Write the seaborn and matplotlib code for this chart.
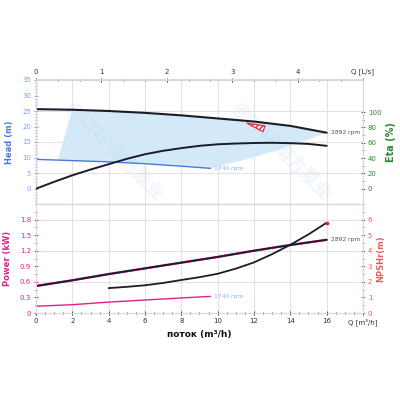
import numpy as np
import pandas as pd
import matplotlib
matplotlib.use("Agg")
import matplotlib.pyplot as plt
from matplotlib.ticker import MultipleLocator, FixedLocator
import seaborn as sns

sns.set_theme(style="white")
plt.rcParams['font.family'] = ['DejaVu Sans', 'Noto Sans CJK SC']

# ---------------- data ----------------
q_hi = [0, 2, 4, 6, 8, 10, 12, 14, 16]
head_hi = [25.6, 25.4, 25.0, 24.4, 23.6, 22.6, 21.6, 20.2, 18.0]

q_lo = [0, 2, 4, 6, 8, 9.6]
head_lo = [9.4, 9.0, 8.6, 8.0, 7.2, 6.5]

q_eta = [0, 1, 2, 3, 4, 5, 6, 7, 8, 9, 10, 11, 12, 13, 14, 15, 16]
eta = [0, 9, 17.5, 25, 32, 39, 45, 49.5, 53, 56, 58, 59, 59.7, 60, 59.5, 58.5, 56]

region_q = [1.2, 2.0, 4, 6, 8, 10, 12, 14, 16, 14.5, 13, 11.5, 9.6, 8, 6, 4, 2, 1.2]
region_h = [9.3, 25.4, 25.0, 24.4, 23.6, 22.6, 21.6, 20.2, 18.0, 14.8, 11.9, 9.3, 6.5, 7.2, 8.0, 8.6, 9.0, 9.3]

bep_q = [11.6, 12.6, 12.5]
bep_h = [21.1, 20.2, 18.3]

q_p = [0, 2, 4, 6, 8, 10, 12, 14, 16]
power_hi = [0.52, 0.63, 0.75, 0.86, 0.97, 1.08, 1.20, 1.31, 1.41]

q_plo = [0, 2, 4, 6, 8, 9.6]
power_lo = [0.13, 0.16, 0.21, 0.25, 0.29, 0.32]

q_npsh = [4, 5, 6, 7, 8, 9, 10, 11, 12, 13, 14, 15, 16]
npsh = [1.6, 1.68, 1.78, 1.93, 2.12, 2.3, 2.52, 2.85, 3.25, 3.78, 4.38, 5.05, 5.8]

speed_hi = "2892 rpm"
speed_lo = "1740 rpm"

x_ticks = [0, 2, 4, 6, 8, 10, 12, 14, 16, 18]
x_labels = ['0', '2', '4', '6', '8', '10', '12', '14', '16', 'Q [m³/h]']
top_ticks = [0, 1, 2, 3, 4, 5]
top_labels = ['0', '1', '2', '3', '4', 'Q [L/s]']
head_ticks = [0, 5, 10, 15, 20, 25, 30, 35]
eta_ticks = [0, 20, 40, 60, 80, 100]
power_ticks = [0, 0.3, 0.6, 0.9, 1.2, 1.5, 1.8]
power_labels = ['0', '0.3', '0.6', '0.9', '1.2', '1.5', '1.8']
npsh_ticks = [0, 1, 2, 3, 4, 5, 6]

# ---------------- colours ----------------
C_HEAD = "#4a78e0"
C_HEAD_T = "#7d9ff0"
C_ETA = "#2e8b2e"
C_POW = "#e0218a"
C_NPSH = "#f05a5a"
C_GRID = "#e2e2e2"
C_SPINE = "#d8d8d8"
C_DARK = "#1c1c28"
C_LBL_HI = "#44506e"
C_LBL_LO = "#8fb0ec"

fig = plt.figure(figsize=(4, 4), dpi=100)
fig.patch.set_facecolor("white")

ax1 = fig.add_axes([0.09, 0.49, 0.8175, 0.31])
ax2 = fig.add_axes([0.09, 0.2175, 0.8175, 0.2725])

for ax in (ax1, ax2):
    ax.set_xlim(0, 18)
    ax.set_facecolor("white")
    for s in ax.spines.values():
        s.set_color(C_SPINE)
        s.set_linewidth(0.8)
    for xv in x_ticks[1:]:
        ax.axvline(xv, color=C_GRID, lw=0.8, zorder=0)

# ---------------- top panel ----------------
ax1.set_ylim(-5, 35)
for hv in [5, 15, 25]:
    ax1.axhline(hv, color=C_GRID, lw=0.8, zorder=0)

ax1.fill(region_q, region_h, color="#d3e9f8", lw=0, zorder=1)

sns.lineplot(x=q_lo, y=head_lo, ax=ax1, color=C_HEAD, lw=1.0, legend=False, zorder=3)
sns.lineplot(x=q_hi, y=head_hi, ax=ax1, color=C_DARK, lw=1.5, legend=False, zorder=4)
ax1.fill(bep_q, bep_h, facecolor="white", edgecolor="#e8202a", hatch="//////", lw=0.8, zorder=5)

ax1.text(q_hi[-1] + 0.25, head_hi[-1], speed_hi, fontsize=4.3, color=C_LBL_HI, va="center", zorder=6)
ax1.text(q_lo[-1] + 0.2, head_lo[-1], speed_lo, fontsize=4.3, color=C_LBL_LO, va="center", zorder=6)

ax1.set_yticks(head_ticks)
ax1.yaxis.set_minor_locator(MultipleLocator(1))
ax1.tick_params(axis='y', which='both', colors=C_HEAD_T, labelsize=5, direction='inout',
                length=3, width=0.7, pad=2)
ax1.tick_params(axis='y', which='minor', length=2)
ax1.set_ylabel("Head (m)", color=C_HEAD, fontsize=6, fontweight="bold", labelpad=6)
ax1.set_xticks([])
ax1.tick_params(axis='x', which='both', bottom=False, labelbottom=False)

ax1r = ax1.twinx()
ax1r.set_ylim(-20, 142)
sns.lineplot(x=q_eta, y=eta, ax=ax1r, color=C_DARK, lw=1.4, legend=False, zorder=4)
ax1r.set_yticks(eta_ticks)
ax1r.yaxis.set_minor_locator(FixedLocator([10, 30, 50, 70, 90]))
ax1r.tick_params(axis='y', which='both', colors=C_ETA, labelsize=5, direction='inout',
                 length=3, width=0.7, pad=2)
ax1r.tick_params(axis='y', which='minor', length=2)
ax1r.set_ylabel("Eta (%)", color=C_ETA, fontsize=7, fontweight="bold", labelpad=3)
for s in ax1r.spines.values():
    s.set_color(C_SPINE)
    s.set_linewidth(0.8)

secx = ax1.secondary_xaxis('top', functions=(lambda q: q / 3.6, lambda l: l * 3.6))
secx.set_xticks(top_ticks)
secx.set_xticklabels(top_labels)
secx.xaxis.set_minor_locator(MultipleLocator(1 / 3))
secx.tick_params(axis='x', which='both', colors="#333333", labelsize=5, direction='inout',
                 length=3, width=0.7, pad=2)
secx.tick_params(axis='x', which='minor', length=2)
secx.spines['top'].set_color(C_SPINE)

# watermark
for (wx, wy) in [(0.24, 0.42), (0.75, 0.42)]:
    ax1.text(wx, wy, "@CNP南方泵业", transform=ax1.transAxes, rotation=-45,
             fontsize=13, fontweight="bold", color="#b8d3ea", alpha=0.22,
             ha="center", va="center", zorder=2,
             family=['DejaVu Sans', 'Noto Sans CJK SC'])

# ---------------- bottom panel ----------------
ax2.set_ylim(0, 2.1)
for pv in [0.6, 1.2, 1.8]:
    ax2.axhline(pv, color=C_GRID, lw=0.8, zorder=0)

sns.lineplot(x=q_plo, y=power_lo, ax=ax2, color=C_POW, lw=1.0, legend=False, zorder=3)
sns.lineplot(x=q_p, y=power_hi, ax=ax2, color=C_POW, lw=1.7, legend=False, zorder=3)
sns.lineplot(x=q_p, y=power_hi, ax=ax2, color=C_DARK, lw=1.3, legend=False, zorder=4)
ax2.text(q_p[-1] + 0.25, power_hi[-1], speed_hi, fontsize=4.3, color=C_LBL_HI, va="center", zorder=6)
ax2.text(q_plo[-1] + 0.2, power_lo[-1], speed_lo, fontsize=4.3, color=C_LBL_LO, va="center", zorder=6)

ax2.set_yticks(power_ticks)
ax2.set_yticklabels(power_labels)
ax2.yaxis.set_minor_locator(MultipleLocator(0.15))
ax2.tick_params(axis='y', which='both', colors=C_POW, labelsize=5, direction='inout',
                length=3, width=0.7, pad=2)
ax2.tick_params(axis='y', which='minor', length=2)
ax2.set_ylabel("Power (kW)", color=C_POW, fontsize=6, fontweight="bold", labelpad=6)

ax2.set_xticks(x_ticks)
ax2.set_xticklabels(x_labels)
ax2.xaxis.set_minor_locator(MultipleLocator(0.5))
ax2.tick_params(axis='x', which='both', colors="#333333", labelsize=5, direction='inout',
                length=3, width=0.7, pad=2, bottom=True)
ax2.tick_params(axis='x', which='minor', length=2)
ax2.set_xlabel("поток (m³/h)", fontsize=6.5, fontweight="bold", color="#111111", labelpad=3)

ax2r = ax2.twinx()
ax2r.set_ylim(0, 7)
sns.lineplot(x=q_npsh, y=npsh, ax=ax2r, color=C_DARK, lw=1.3, legend=False, zorder=4)
ax2r.plot([q_npsh[-1]], [npsh[-1]], 'o', color="#e8202a", ms=1.6, zorder=5)
ax2r.set_yticks(npsh_ticks)
ax2r.yaxis.set_minor_locator(MultipleLocator(0.5))
ax2r.tick_params(axis='y', which='both', colors=C_NPSH, labelsize=5, direction='inout',
                 length=3, width=0.7, pad=2)
ax2r.tick_params(axis='y', which='minor', length=2)
ax2r.set_ylabel("NPSHr(m)", color=C_NPSH, fontsize=6, fontweight="bold", labelpad=3)
for s in ax2r.spines.values():
    s.set_color(C_SPINE)
    s.set_linewidth(0.8)

for a in (ax1, ax1r, ax2, ax2r):
    a.set_xlim(0, 18)

fig.savefig("out.png", dpi=100, facecolor="white")
